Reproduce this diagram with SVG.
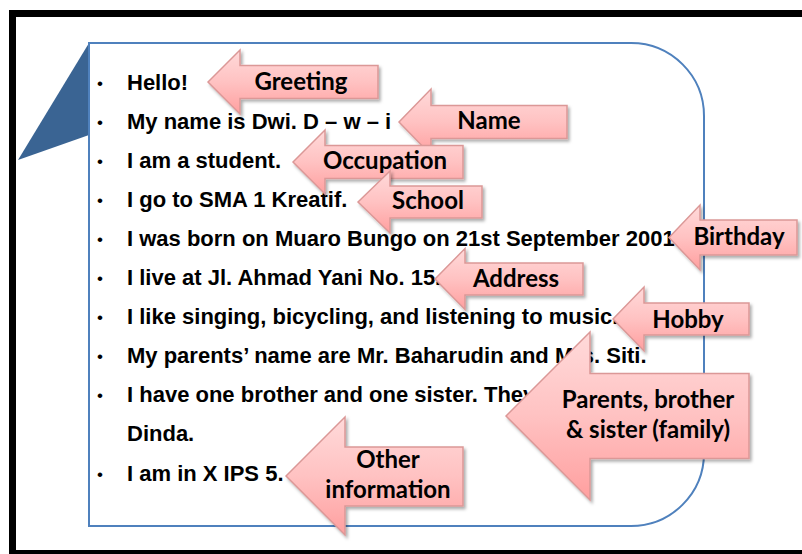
<svg xmlns="http://www.w3.org/2000/svg" width="802" height="554" viewBox="0 0 802 554">
<defs>
<linearGradient id="pink" x1="0" y1="0" x2="0" y2="1">
<stop offset="0" stop-color="#FFDADA"/>
<stop offset="0.5" stop-color="#FFC2C2"/>
<stop offset="1" stop-color="#FF9F9F"/>
</linearGradient>
<filter id="sh" x="-10%" y="-10%" width="125%" height="130%">
<feDropShadow dx="2" dy="2.5" stdDeviation="1.5" flood-color="#000" flood-opacity="0.32"/>
</filter>
</defs>
<style>
.frame{fill:#fff;stroke:#000;stroke-width:7}
.box{fill:#fff;stroke:#4F81BD;stroke-width:2}
.tri{fill:#3A6493}
.t{font-family:"Liberation Sans",Arial,sans-serif;font-weight:bold;font-size:22px;fill:#000}
.b{font-family:"Liberation Sans",Arial,sans-serif;font-size:17px;fill:#000}
.arr{fill:url(#pink);stroke:#DB9897;stroke-width:1.5;filter:url(#sh)}
.al{font-family:Lato,"Open Sans",sans-serif;font-weight:bold;font-size:24px;fill:#000;text-anchor:middle}
</style>
<rect class="frame" x="12.5" y="13.5" width="820" height="540"/>
<g id="bubble">
<polygon class="tri" points="89,43 18,160 89,135"/>
<path class="box" d="M89 43 H631 A73 73 0 0 1 704 116 V453 A73 73 0 0 1 631 526 H89 Z"/>
</g>
<g id="text">
<text class="b" x="97" y="89">•</text><text class="t" x="127" y="90">Hello!</text>
<text class="b" x="97" y="128">•</text><text class="t" x="127" y="129">My name is Dwi. D – w – i</text>
<text class="b" x="97" y="167">•</text><text class="t" x="127" y="168">I am a student.</text>
<text class="b" x="97" y="206">•</text><text class="t" x="127" y="207">I go to SMA 1 Kreatif.</text>
<text class="b" x="97" y="245">•</text><text class="t" x="127" y="246">I was born on Muaro Bungo on 21st September 2001</text>
<text class="b" x="97" y="284">•</text><text class="t" x="127" y="285">I live at Jl. Ahmad Yani No. 15.</text>
<text class="b" x="97" y="323">•</text><text class="t" x="127" y="324">I like singing, bicycling, and listening to music.</text>
<text class="b" x="97" y="362">•</text><text class="t" x="127" y="363">My parents’ name are Mr. Baharudin and Mrs. Siti.</text>
<text class="b" x="97" y="401">•</text><text class="t" x="127" y="402">I have one brother and one sister. They</text>
<text class="t" x="127" y="441">Dinda.</text>
<text class="b" x="97" y="480">•</text><text class="t" x="127" y="481">I am in X IPS 5.</text>
</g>
<g id="connectors">
<g id="greeting">
<path class="arr" d="M208 82 L240 50 V65.5 H378 V98.5 H240 V114 Z"/>
<text class="al" x="301" y="90">Greeting</text>
</g>
<g id="name">
<path class="arr" d="M399 122 L431 89 V105.5 H567 V138.5 H431 V155 Z"/>
<text class="al" x="489" y="129">Name</text>
</g>
<g id="occupation">
<path class="arr" d="M293 162 L325 130 V145.5 H463 V178.5 H325 V194 Z"/>
<text class="al" x="385" y="169">Occupation</text>
</g>
<g id="school">
<path class="arr" d="M358 202 L390 171 V186 H482 V218 H390 V233 Z"/>
<text class="al" x="428" y="209">School</text>
</g>
<g id="birthday">
<path class="arr" d="M669 237.5 L700 205 V220 H797 V255 H700 V270 Z"/>
<text class="al" x="739" y="245">Birthday</text>
</g>
<g id="address">
<path class="arr" d="M435 279 L465 248.5 V263 H583 V295 H465 V309.5 Z"/>
<text class="al" x="516" y="287">Address</text>
</g>
<g id="hobby">
<path class="arr" d="M613 319 L644 287 V303 H749 V335 H644 V351 Z"/>
<text class="al" x="688" y="328">Hobby</text>
</g>
<g id="parents">
<path class="arr" d="M506 416 L590 332 V373.5 H749 V458.5 H590 V500 Z"/>
<text class="al" x="648" y="408">Parents, brother</text>
<text class="al" x="648" y="438">&amp; sister (family)</text>
</g>
<g id="other">
<path class="arr" d="M286 476 L345 417 V447 H463 V506 H345 V535 Z"/>
<text class="al" x="388" y="468">Other</text>
<text class="al" x="388" y="498">information</text>
</g>
</g>
</svg>
